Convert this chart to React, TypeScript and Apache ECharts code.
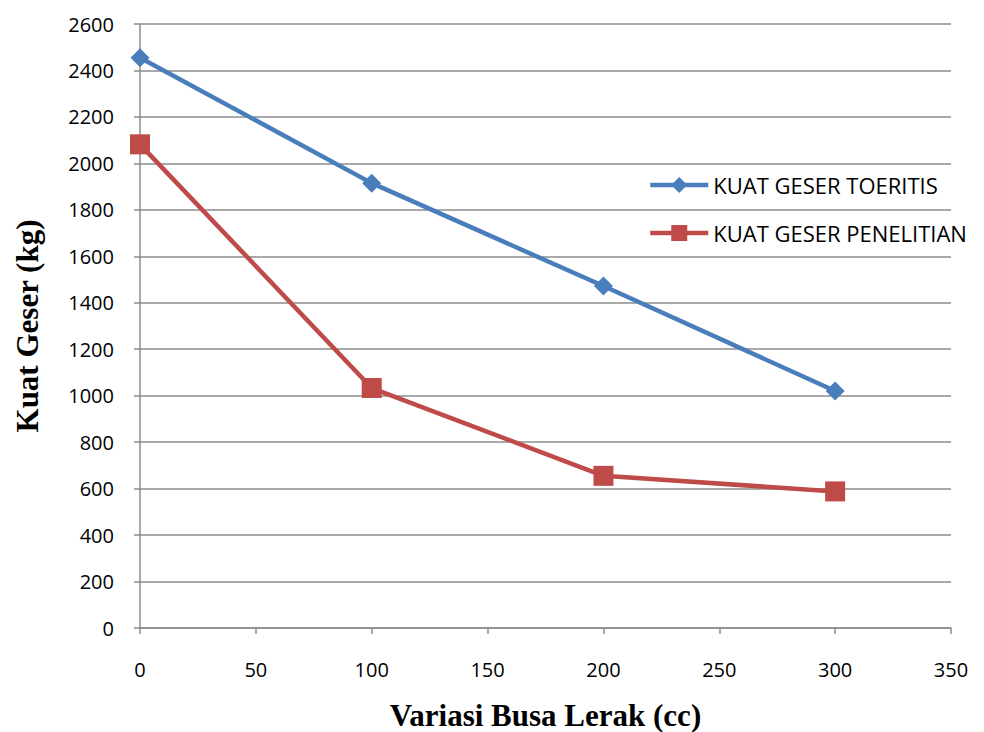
import React, { useEffect, useRef } from "react";
import * as echarts from "echarts";

// Foam variation (cc) and shear strength (kg)
const busaLerak = [0, 100, 200, 300];
const kuatGeserToeritis = [2455, 1915, 1472, 1020];
const kuatGeserPenelitian = [2082, 1033, 655, 588];
const xTicks = [0, 50, 100, 150, 200, 250, 300, 350];

export default function App() {
  const ref = useRef<HTMLDivElement>(null);

  useEffect(() => {
    if (!ref.current) return;
    const chart = echarts.init(ref.current, undefined, { renderer: "svg" });
    const labelFont = "'Open Sans', 'Noto Sans', sans-serif";
    const titleFont = "'Liberation Serif', 'Times New Roman', serif";
    chart.setOption({
      animation: false,
      backgroundColor: "#ffffff",
      grid: { left: 140, right: 33, top: 24, bottom: 104, outerBoundsMode: "none", containLabel: false },
      legend: {
        orient: "vertical",
        left: 643,
        top: 169,
        itemWidth: 58,
        itemHeight: 20,
        itemGap: 26,
        lineStyle: { width: 4.5 },
        textStyle: { fontFamily: labelFont, fontSize: 22, color: "#000" },
        data: ["KUAT GESER TOERITIS", "KUAT GESER PENELITIAN"],
      },
      xAxis: {
        type: "value",
        min: 0,
        max: 350,
        interval: 50,
        name: "Variasi Busa Lerak (cc)",
        nameLocation: "middle",
        nameGap: 72,
        nameTextStyle: { fontFamily: titleFont, fontWeight: "bold", fontSize: 31, color: "#000" },
        axisLine: { show: true, lineStyle: { color: "#8c8c8c", width: 1.5 } },
        axisTick: { show: true, length: 6, lineStyle: { color: "#8c8c8c", width: 1.5 } },
        axisLabel: {
          fontFamily: labelFont,
          fontSize: 20,
          color: "#000",
          margin: 31,
          formatter: (v: number) => (xTicks.includes(v) ? String(v) : ""),
        },
        splitLine: { show: false },
      },
      yAxis: {
        type: "value",
        min: 0,
        max: 2600,
        interval: 200,
        name: "Kuat Geser (kg)",
        nameLocation: "middle",
        nameGap: 97,
        nameTextStyle: { fontFamily: titleFont, fontWeight: "bold", fontSize: 31, color: "#000" },
        axisLine: { show: true, lineStyle: { color: "#8c8c8c", width: 1.5 } },
        axisTick: { show: true, length: 6, lineStyle: { color: "#8c8c8c", width: 1.5 } },
        axisLabel: {
          fontFamily: labelFont,
          fontSize: 20,
          color: "#000",
          margin: 26,
          formatter: (v: number) => String(v),
        },
        splitLine: { show: true, lineStyle: { color: "#8c8c8c", width: 1.5 } },
      },
      series: [
        {
          name: "KUAT GESER TOERITIS",
          type: "line",
          data: busaLerak.map((x, i) => [x, kuatGeserToeritis[i]]),
          symbol: "diamond",
          symbolSize: 19,
          itemStyle: { color: "#4a7ebb" },
          lineStyle: { color: "#4a7ebb", width: 4.5 },
        },
        {
          name: "KUAT GESER PENELITIAN",
          type: "line",
          data: busaLerak.map((x, i) => [x, kuatGeserPenelitian[i]]),
          symbol: "rect",
          symbolSize: 20,
          itemStyle: { color: "#be4b48" },
          lineStyle: { color: "#be4b48", width: 4.5 },
        },
      ],
    });
    return () => chart.dispose();
  }, []);

  return <div ref={ref} style={{ width: 984, height: 732, position: "absolute", left: 0, top: 0 }} />;
}
